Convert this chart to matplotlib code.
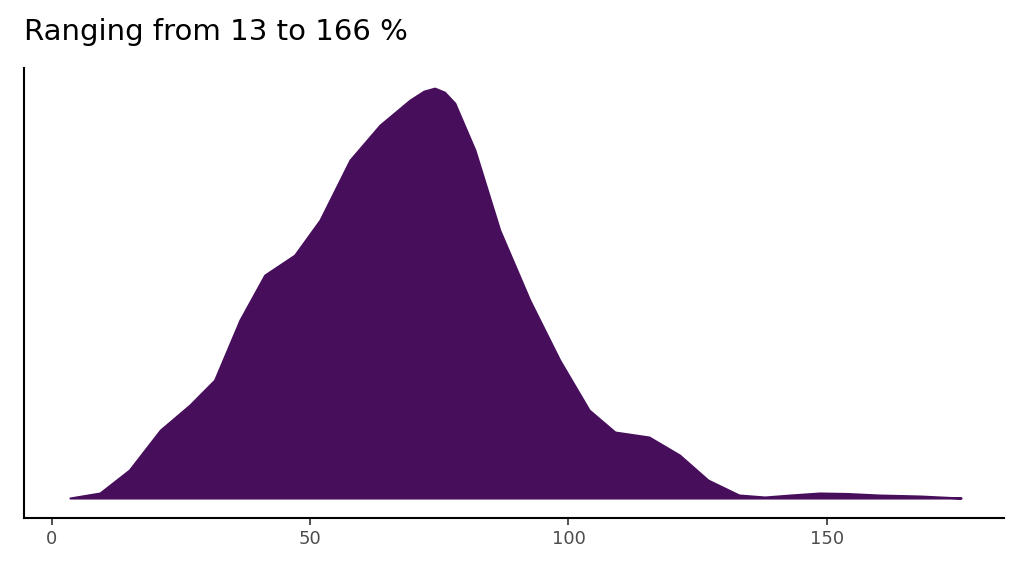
import matplotlib
matplotlib.use("Agg")
import matplotlib.pyplot as plt

title = "Ranging from 13 to 166 %"
x_vals = [3.5, 9.3, 15, 21, 26.7, 31.5, 36.4, 41.2, 47, 51.9, 57.7, 63.5, 69.3, 72, 74.1, 76, 78,
          81.9, 86.7, 92.5, 98.3, 104, 109, 115.6, 121.5, 127, 133, 138, 143, 148.6, 154, 160, 168, 176]
density = [0, 5, 28, 68, 93, 118, 178, 223, 243, 278, 338, 373, 398, 407, 410, 406, 395,
           348, 268, 198, 138, 88, 66, 61, 43, 18, 3, 1, 3, 5, 4.5, 3, 2, 0]
xticks = [0, 50, 100, 150]

fig = plt.figure(figsize=(10.24, 5.76), dpi=100)
ax = fig.add_axes([0.0234, 0.1007, 0.9575, 0.781])
ax.fill_between(x_vals, density, 0, color="#470E5C", lw=1.5, edgecolor="#470E5C")
ax.set_xlim(-5.4, 184.4)
ax.set_ylim(-20, 430)
ax.set_xticks(xticks)
ax.set_xticklabels([str(t) for t in xticks], fontsize=13, color="#4D4D4D")
ax.set_yticks([])
for s in ["top", "right"]:
    ax.spines[s].set_visible(False)
for s in ["left", "bottom"]:
    ax.spines[s].set_linewidth(1.5)
ax.tick_params(axis="x", length=5, width=1.2, color="#333333")
fig.text(0.0234, 0.92, title, fontsize=21, ha="left", va="bottom")
fig.savefig("out.png")
